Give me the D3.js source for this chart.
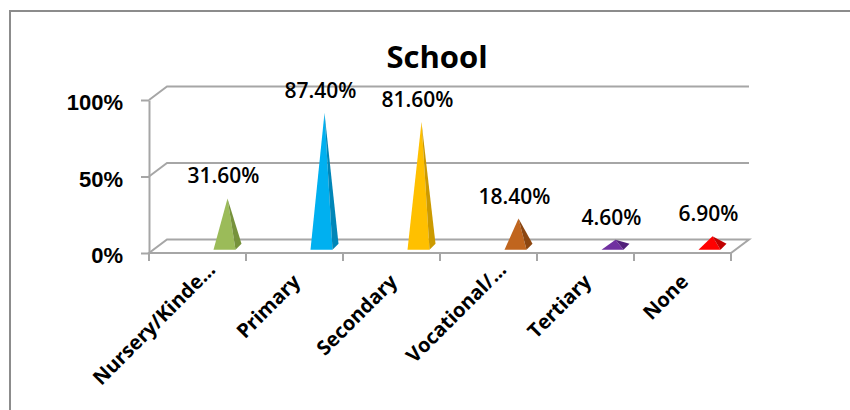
<!DOCTYPE html>
<html>
<head>
<meta charset="utf-8">
<script src="https://cdn.jsdelivr.net/npm/d3@7"></script>
<style>
  html, body { margin: 0; padding: 0; background: #fff; }
  svg { display: block; font-family: "Open Sans", "DejaVu Sans", sans-serif; }
  .grid { fill: none; stroke: #a6a6a6; stroke-width: 2; }
  .tick-lbl { font-size: 22px; font-weight: 700; fill: #000; }
  .val-lbl { font-size: 21px; font-weight: 600; fill: #000; }
  .cat-lbl { font-size: 20px; font-weight: 700; fill: #000; }
</style>
</head>
<body>
<svg id="chart" width="850" height="410"></svg>
<script>
// values
const categories = ["Nursery/Kinde...", "Primary", "Secondary", "Vocational/...", "Tertiary", "None"];
const values = [31.6, 87.4, 81.6, 18.4, 4.6, 6.9];
const valueLabels = ["31.60%", "87.40%", "81.60%", "18.40%", "4.60%", "6.90%"];
const frontColors = ["#9bbb59", "#00b0f0", "#ffc000", "#c0651e", "#7030a0", "#ff0000"];
const sideColors = ["#76923c", "#0086b8", "#cc9a00", "#8c4610", "#52207a", "#c00000"];
const yTicks = [0, 50, 100];

const DX = 18, DY = -13.5;   // depth of the 3d box

const svg = d3.select("#chart");

// outer frame (runs off right and bottom)
svg.append("rect")
  .attr("x", 10).attr("y", 11).attr("width", 860).attr("height", 420)
  .attr("fill", "none").attr("stroke", "#8c8c8c").attr("stroke-width", 2);

svg.append("text")
  .attr("x", 437).attr("y", 68).attr("text-anchor", "middle")
  .style("font-size", "31px").style("font-weight", 700)
  .text("School");

const x = d3.scaleBand().domain(categories).range([149, 731]);
const y = d3.scaleLinear().domain([0, 100]).range([253, 100]);
const x0 = x.range()[0], x1 = x.range()[1];

// back wall gridlines with their diagonal into the front plane
const grid = svg.append("g");
grid.selectAll("path.g")
  .data(yTicks.filter((t) => t > 0))
  .join("path")
  .attr("class", "grid")
  .attr("d", (t) => `M${x0},${y(t)}L${x0 + DX},${y(t) + DY}L${x1 + DX},${y(t) + DY}`);

// floor
grid.append("path")
  .attr("class", "grid")
  .attr("fill", "#fff")
  .attr("d", `M${x0},${y(0)}L${x1},${y(0)}L${x1 + DX},${y(0) + DY}L${x0 + DX},${y(0) + DY}Z`);

// y axis
const yAx = d3.axisLeft(y).tickValues(yTicks).tickSize(8).tickSizeOuter(0).tickFormat((d) => d + "%");
const ax = svg.append("g").attr("transform", `translate(${x0},0)`).call(yAx);
ax.selectAll(".domain, line").attr("stroke", "#a6a6a6").attr("stroke-width", 2);
ax.selectAll("text").attr("class", "tick-lbl").attr("x", -26).attr("dy", "0.45em")
  .attr("font-family", null).attr("font-size", null).attr("fill", null);

// category tick marks at band edges
const edges = categories.map((c) => x(c)).concat([x1]);
svg.append("g").selectAll("line")
  .data(edges)
  .join("line")
  .attr("x1", (d) => d).attr("x2", (d) => d)
  .attr("y1", y(0)).attr("y2", y(0) + 8)
  .attr("stroke", "#a6a6a6").attr("stroke-width", 2);

// pyramids
const yMid = (v) => y(v) + DY / 2 + 0.5;
const cxOf = (c) => x(c) + x.bandwidth() / 2 + 30;
const rows = categories.map((c, i) => ({ c, v: values[i], i }));

const pyr = svg.append("g").selectAll("g").data(rows).join("g");
pyr.append("path")
  .attr("fill", (d) => frontColors[d.i])
  .attr("d", (d) => {
    const cx = cxOf(d.c), b = yMid(0);
    return `M${cx - 14},${b + 3}L${cx + 8},${b + 3}L${cx},${yMid(d.v)}Z`;
  });
pyr.append("path")
  .attr("fill", (d) => sideColors[d.i])
  .attr("d", (d) => {
    const cx = cxOf(d.c), b = yMid(0);
    return `M${cx + 8},${b + 3}L${cx + 14},${b - 3}L${cx},${yMid(d.v)}Z`;
  });

// value labels
svg.append("g").selectAll("text")
  .data(rows)
  .join("text")
  .attr("class", "val-lbl")
  .attr("text-anchor", "middle")
  .attr("x", (d) => cxOf(d.c) - 4)
  .attr("y", (d) => yMid(d.v) - 15)
  .text((d) => valueLabels[d.i]);

// rotated category labels; truncated ones let the "..." hang past the anchor
svg.append("g").selectAll("text")
  .data(categories)
  .join("text")
  .attr("class", "cat-lbl")
  .attr("transform", (c) => `translate(${x(c) + x.bandwidth() / 2 + 7},${283}) rotate(-45)`)
  .text((c) => c)
  .each(function (c) {
    const stem = c.replace(/\.\.\.$/, "");
    const len = this.getSubStringLength(0, stem.length);
    d3.select(this).attr("x", -len);
  });
</script>
</body>
</html>
